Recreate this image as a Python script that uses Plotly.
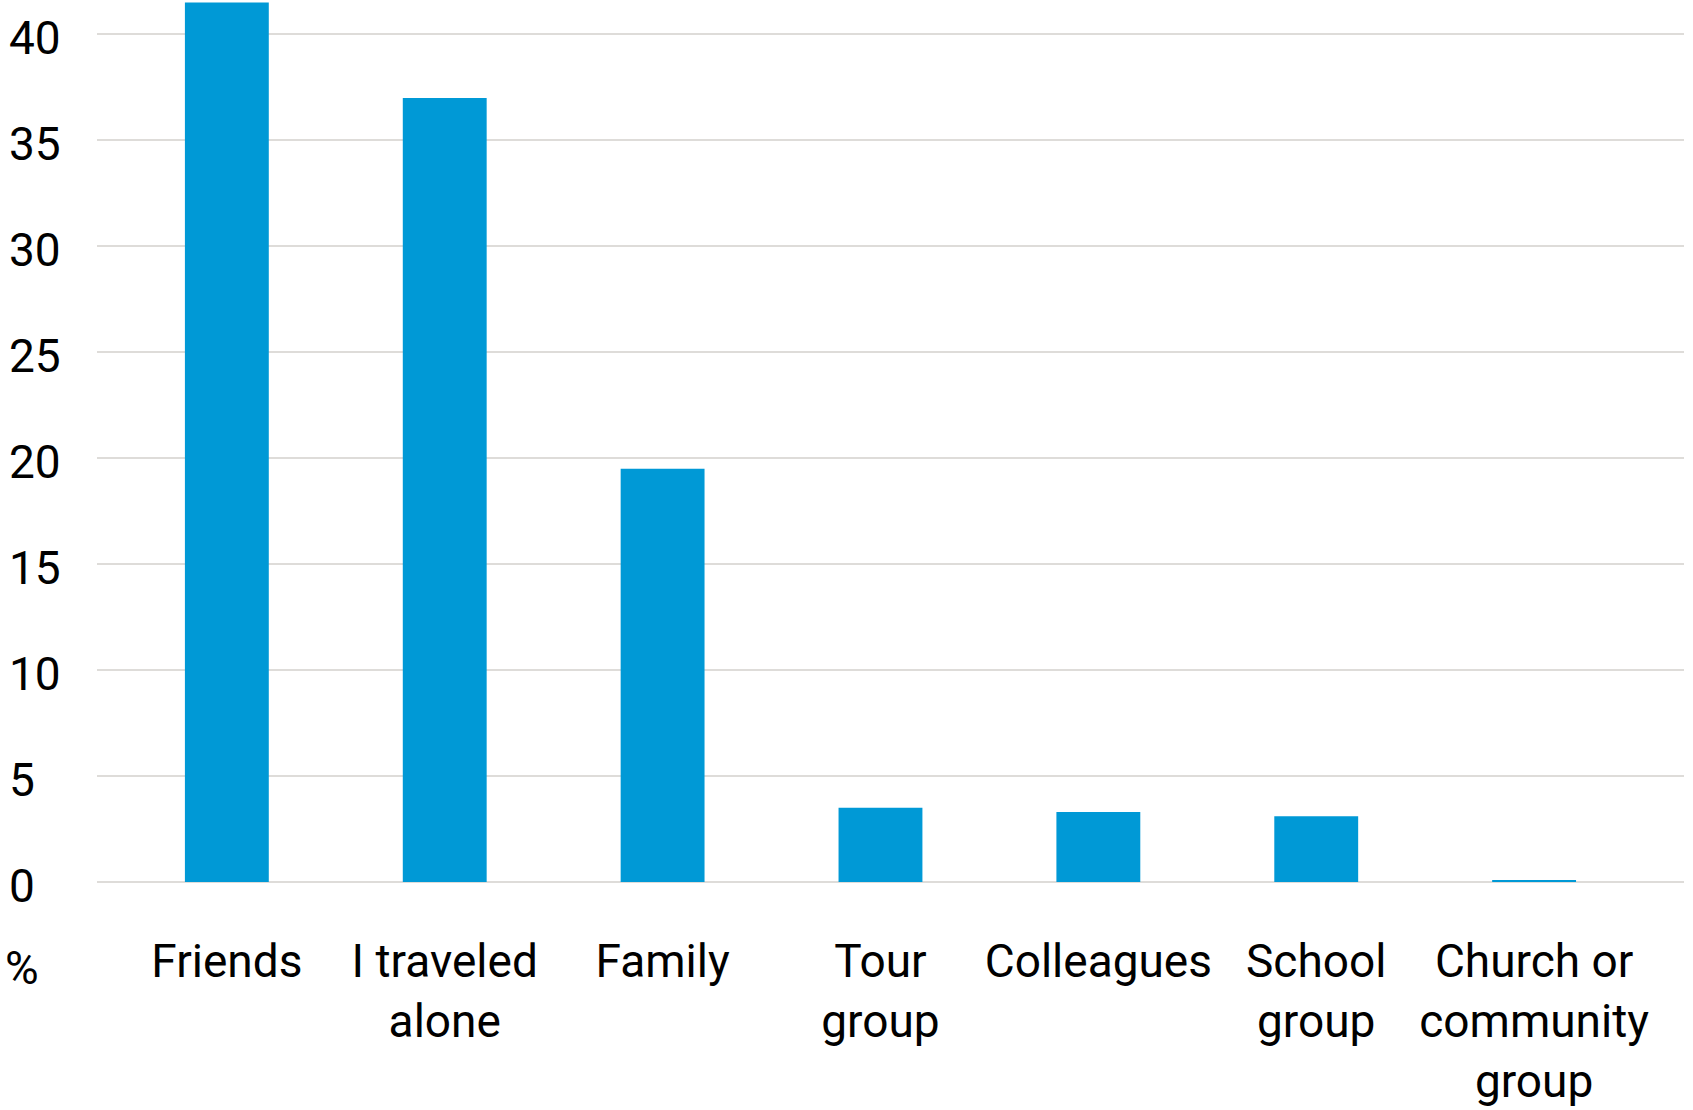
import plotly.graph_objects as go

# Who respondents travelled with (%)
categories = ["Friends", "I traveled alone", "Family", "Tour group",
              "Colleagues", "School group", "Church or community group"]
tick_labels = ["Friends", "I traveled<br>alone", "Family", "Tour<br>group",
               "Colleagues", "School<br>group", "Church or<br>community<br>group"]
values = [41.5, 37.0, 19.5, 3.5, 3.3, 3.1, 0.1]
y_ticks = [0, 5, 10, 15, 20, 25, 30, 35, 40]

FONT = "Roboto"
FONT_SIZE = 46
BAR_COLOR = "#0099D6"
GRID_COLOR = "#DEDCD9"

fig = go.Figure(
    go.Bar(
        x=categories,
        y=values,
        width=0.385,
        marker=dict(color=BAR_COLOR, line=dict(width=0)),
        hoverinfo="skip",
    )
)

# left-aligned value labels along the y axis
annotations = [
    dict(
        x=-0.0565, xref="paper", xanchor="left",
        y=v, yref="y", yanchor="middle", yshift=-4,
        text=str(v), showarrow=False,
        font=dict(family=FONT, size=FONT_SIZE, color="#000000"),
    )
    for v in y_ticks
]
# the % unit label sits beside the category labels
annotations.append(
    dict(
        x=-0.0595, xref="paper", xanchor="left",
        y=-(968 - 882) / 882, yref="paper", yanchor="middle",
        text="%", showarrow=False,
        font=dict(family=FONT, size=FONT_SIZE, color="#000000"),
    )
)

fig.update_layout(
    width=1693,
    height=1110,
    margin=dict(l=97, r=9, t=0, b=228, pad=0, autoexpand=False),
    paper_bgcolor="#FFFFFF",
    plot_bgcolor="#FFFFFF",
    showlegend=False,
    font=dict(family=FONT, size=FONT_SIZE, color="#000000"),
    annotations=annotations,
    xaxis=dict(
        type="category",
        range=[-0.596, 6.688],
        tickvals=categories,
        ticktext=tick_labels,
        showgrid=False,
        showline=False,
        ticks="",
        automargin=False,
        ticklabelstandoff=48,
        tickfont=dict(family=FONT, size=FONT_SIZE, color="#000000"),
        fixedrange=True,
    ),
    yaxis=dict(
        range=[0, 41.62],
        tickvals=y_ticks,
        showticklabels=False,
        showgrid=True,
        gridcolor=GRID_COLOR,
        gridwidth=1.5,
        zeroline=True,
        zerolinecolor=GRID_COLOR,
        zerolinewidth=1.5,
        showline=False,
        ticks="",
        automargin=False,
        fixedrange=True,
    ),
)

fig.write_html("out.html")
